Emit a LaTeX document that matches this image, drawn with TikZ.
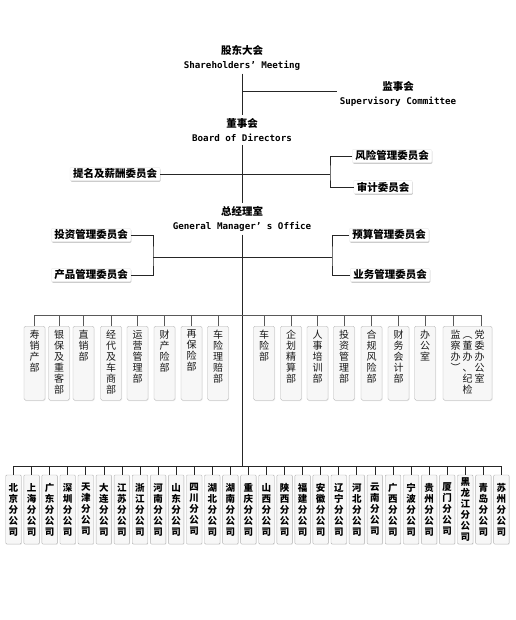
\documentclass[tikz,border=0pt]{standalone}
\usepackage{fontspec}
\setmainfont{Noto Sans CJK SC}
\setmonofont{DejaVu Sans Mono}
\usetikzlibrary{shadows}

% stack the characters of a word one under the other
\newcommand\vlist[1]{\expandafter\vlstep#1\relax}
\def\vlstep#1{\ifx\relax#1\else\hbox to 1em{\hss#1\hss}\expandafter\vlstep\fi}
\newcommand\shu[1]{\vbox to 66pt{\vlist{#1}\vfil}}

\tikzset{
  title/.style={align=center, inner sep=3pt, font=\bfseries\fontsize{10.5}{14}\selectfont},
  wyh/.style={fill=white, draw=gray!15, rounded corners=1pt, inner xsep=3pt, inner ysep=1.5pt,
    font=\bfseries\fontsize{10.5}{12}\selectfont,
    drop shadow={shadow xshift=0.6pt, shadow yshift=-1.2pt, opacity=0.4}},
  bm/.style={draw=gray!60, fill=gray!6, rounded corners=1.5pt, anchor=north, minimum width=21pt,
    inner xsep=0pt, inner ysep=4pt, text=black!90, font=\fontsize{10}{11}\selectfont,
    drop shadow={shadow xshift=0.5pt, shadow yshift=-0.8pt, opacity=0.15}},
  fgs/.style={draw=gray!60, fill=gray!6, rounded corners=1pt, minimum width=15.5pt,
    minimum height=69pt, inner sep=0pt, font=\bfseries\fontsize{9.5}{11}\selectfont,
    drop shadow={shadow xshift=0.5pt, shadow yshift=-0.8pt, opacity=0.15}},
  xian/.style={line width=0.7pt, black!85},
  xi/.style={line width=0.5pt, black!65},
}

\begin{document}
\begin{tikzpicture}[x=1pt, y=-1pt]
  \useasboundingbox[fill=white] (0,0) rectangle (515,620);
  %
  \node[title] (gd) at (242,58) {股东大会\\{\ttfamily\fontsize{9.2}{14}\selectfont Shareholders’ Meeting}};
  %
  \node[title] (js) at (398,94) {监事会\\{\ttfamily\fontsize{9.2}{14}\selectfont Supervisory Committee}};
  %
  \node[title] (ds) at (242,130) {董事会\\{\ttfamily\fontsize{9.2}{14}\selectfont Board of Directors}};
  %
  \node[title] (zj) at (242,219) {总经理室\\{\ttfamily\fontsize{9.2}{14}\selectfont General Manager’ s Office}};
  %
  \coordinate (jd) at (242,91);
  \draw[xian] (gd.south) -- (ds.north);
  \draw[xian] (jd) -- (jd -| js.west);
  \draw[xian] (ds.south) -- (zj.north);
  %%%%%%%%%%%%%%%%%%%%%% committees of the board
  \node[wyh] (tm) at (115,174) {提名及薪酬委员会};
  \node[wyh] (fx) at (392,156) {风险管理委员会};
  \node[wyh] (sj) at (383,187) {审计委员会};
  %
  \coordinate (bj) at (330,174);
  \draw[xian] (tm.east) -- (bj);
  \draw[xian] (fx.west) -| (bj) |- (sj.west);
  %%%%%%%%%%%%%%%%%%%%%% committees of the office
  \node[wyh] (tz) at (91,235) {投资管理委员会};
  \node[wyh] (cp) at (91,275) {产品管理委员会};
  \node[wyh] (ys) at (389,235) {预算管理委员会};
  \node[wyh] (yw) at (390,275) {业务管理委员会};
  %
  \coordinate (bl) at (153,257);
  \coordinate (br) at (332,257);
  \draw[xian] (tz.east) -| (bl) |- (cp.east);
  \draw[xian] (bl) -- (br);
  \draw[xian] (ys.west) -| (br) |- (yw.west);
  %%%%%%%%%%%%%%%%%%%%%% departments
  \coordinate (bus) at (242,315);
  \coordinate (fbus) at (242,466);
  \draw[xian] (zj.south) -- (fbus);
  %
  \foreach \x/\t [count=\i] in {34.5/寿销产部, 59/银保及重客部, 83.5/直销部, 111/经代及车商部,
      137.5/运营管理部, 164.5/财产险部, 191.5/再保险部, 218/车险理赔部, 264/车险部,
      291/企划精算部, 317.5/人事培训部, 344/投资管理部, 371.5/合规风险部, 398.5/财务会计部, 425/办公室}
  {
    \node[bm] (d\i) at (\x,326) {\shu{\t}};
    \draw[xi] (d\i.north) -- (d\i.north |- bus);
  }
  %
  \node[bm, minimum width=49pt] (wb) at (467.5,326)
    {\vbox to 66pt{\hbox{\vtop{\vlist{监察办︶}}\kern2pt\vtop{\vlist{︵董办、纪检}}\kern2pt\vtop{\vlist{党委办公室}}}\vfil}};
  \draw[xi] ([xshift=-14.5pt]wb.north) -- ([xshift=-14.5pt]wb.north |- bus);
  \draw[xi] ([xshift=13.5pt]wb.north) -- ([xshift=13.5pt]wb.north |- bus);
  \draw[xi] (d1.north |- bus) -- ([xshift=13.5pt]wb.north |- bus);
  %%%%%%%%%%%%%%%%%%%%%% branches
  \foreach \t [count=\i] in {北京分公司, 上海分公司, 广东分公司, 深圳分公司, 天津分公司, 大连分公司,
      江苏分公司, 浙江分公司, 河南分公司, 山东分公司, 四川分公司, 湖北分公司, 湖南分公司, 重庆分公司,
      山西分公司, 陕西分公司, 福建分公司, 安徽分公司, 辽宁分公司, 河北分公司, 云南分公司, 广西分公司,
      宁波分公司, 贵州分公司, 厦门分公司, 黑龙江分公司, 青岛分公司, 苏州分公司}
  {
    \node[fgs] (f\i) at ({13.5+18.07*(\i-1)},509.5) {\vbox{\vlist{\t}}};
    \draw[xian] (f\i.north) -- (f\i.north |- fbus);
  }
  \draw[xian] (f1.north |- fbus) -- (f28.north |- fbus);
\end{tikzpicture}
\end{document}
